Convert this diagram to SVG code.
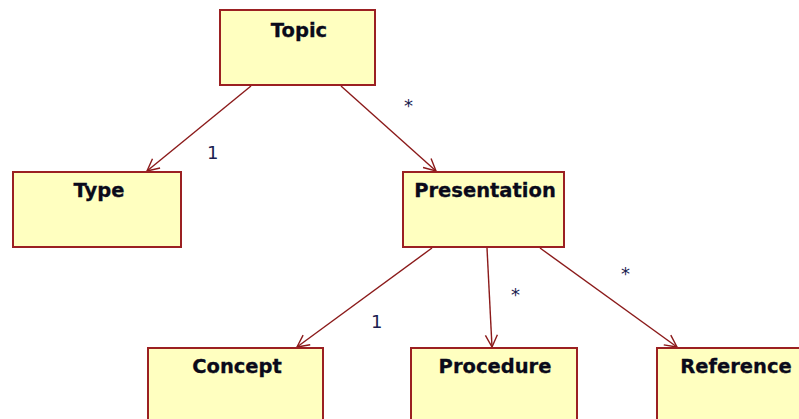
<svg xmlns="http://www.w3.org/2000/svg" width="799" height="419" viewBox="0 0 799 419">
<defs>
<style>
.box{fill:#ffffc0;stroke:#9b2022;stroke-width:2}
.name{font-family:"DejaVu Sans",Verdana,sans-serif;font-weight:bold;font-size:19.5px;fill:#0a0a1a;text-anchor:middle;stroke:#0a0a1a;stroke-width:0.3}
.lbl{font-family:"DejaVu Sans",Verdana,sans-serif;font-size:18px;fill:#1a2050}
.edge{stroke:#8b1a1a;stroke-width:1.4;fill:none;marker-end:url(#arr)}
</style>
<marker id="arr" viewBox="-13 -7 14 14" markerWidth="14" markerHeight="14" refX="0" refY="0" orient="auto" markerUnits="userSpaceOnUse">
<path d="M-12,-6 L0,0 L-12,6" fill="none" stroke="#8b1a1a" stroke-width="1.4"/>
</marker>
</defs>
<rect width="799" height="419" fill="#fff"/>
<g id="connectors">
<line class="edge" x1="251" y1="86" x2="147" y2="171"/>
<line class="edge" x1="341" y1="86" x2="436" y2="171"/>
<line class="edge" x1="432" y1="248" x2="297" y2="347"/>
<line class="edge" x1="487" y1="248" x2="492" y2="347"/>
<line class="edge" x1="540" y1="248" x2="677" y2="347"/>
<text class="lbl" x="207" y="159">1</text>
<text class="lbl" x="404" y="112">*</text>
<text class="lbl" x="371" y="328">1</text>
<text class="lbl" x="511" y="301">*</text>
<text class="lbl" x="621" y="280">*</text>
</g>
<g id="topic"><rect class="box" x="220" y="10" width="155" height="75"/><text class="name" x="299" y="37">Topic</text></g>
<g id="type"><rect class="box" x="13" y="172" width="168" height="75"/><text class="name" x="99" y="197">Type</text></g>
<g id="presentation"><rect class="box" x="403" y="172" width="161" height="75"/><text class="name" x="485" y="197">Presentation</text></g>
<g id="concept"><rect class="box" x="148" y="348" width="175" height="80"/><text class="name" x="237" y="373">Concept</text></g>
<g id="procedure"><rect class="box" x="411" y="348" width="166" height="80"/><text class="name" x="495" y="373">Procedure</text></g>
<g id="reference"><rect class="box" x="657" y="348" width="157" height="80"/><text class="name" x="736" y="373">Reference</text></g>
</svg>
